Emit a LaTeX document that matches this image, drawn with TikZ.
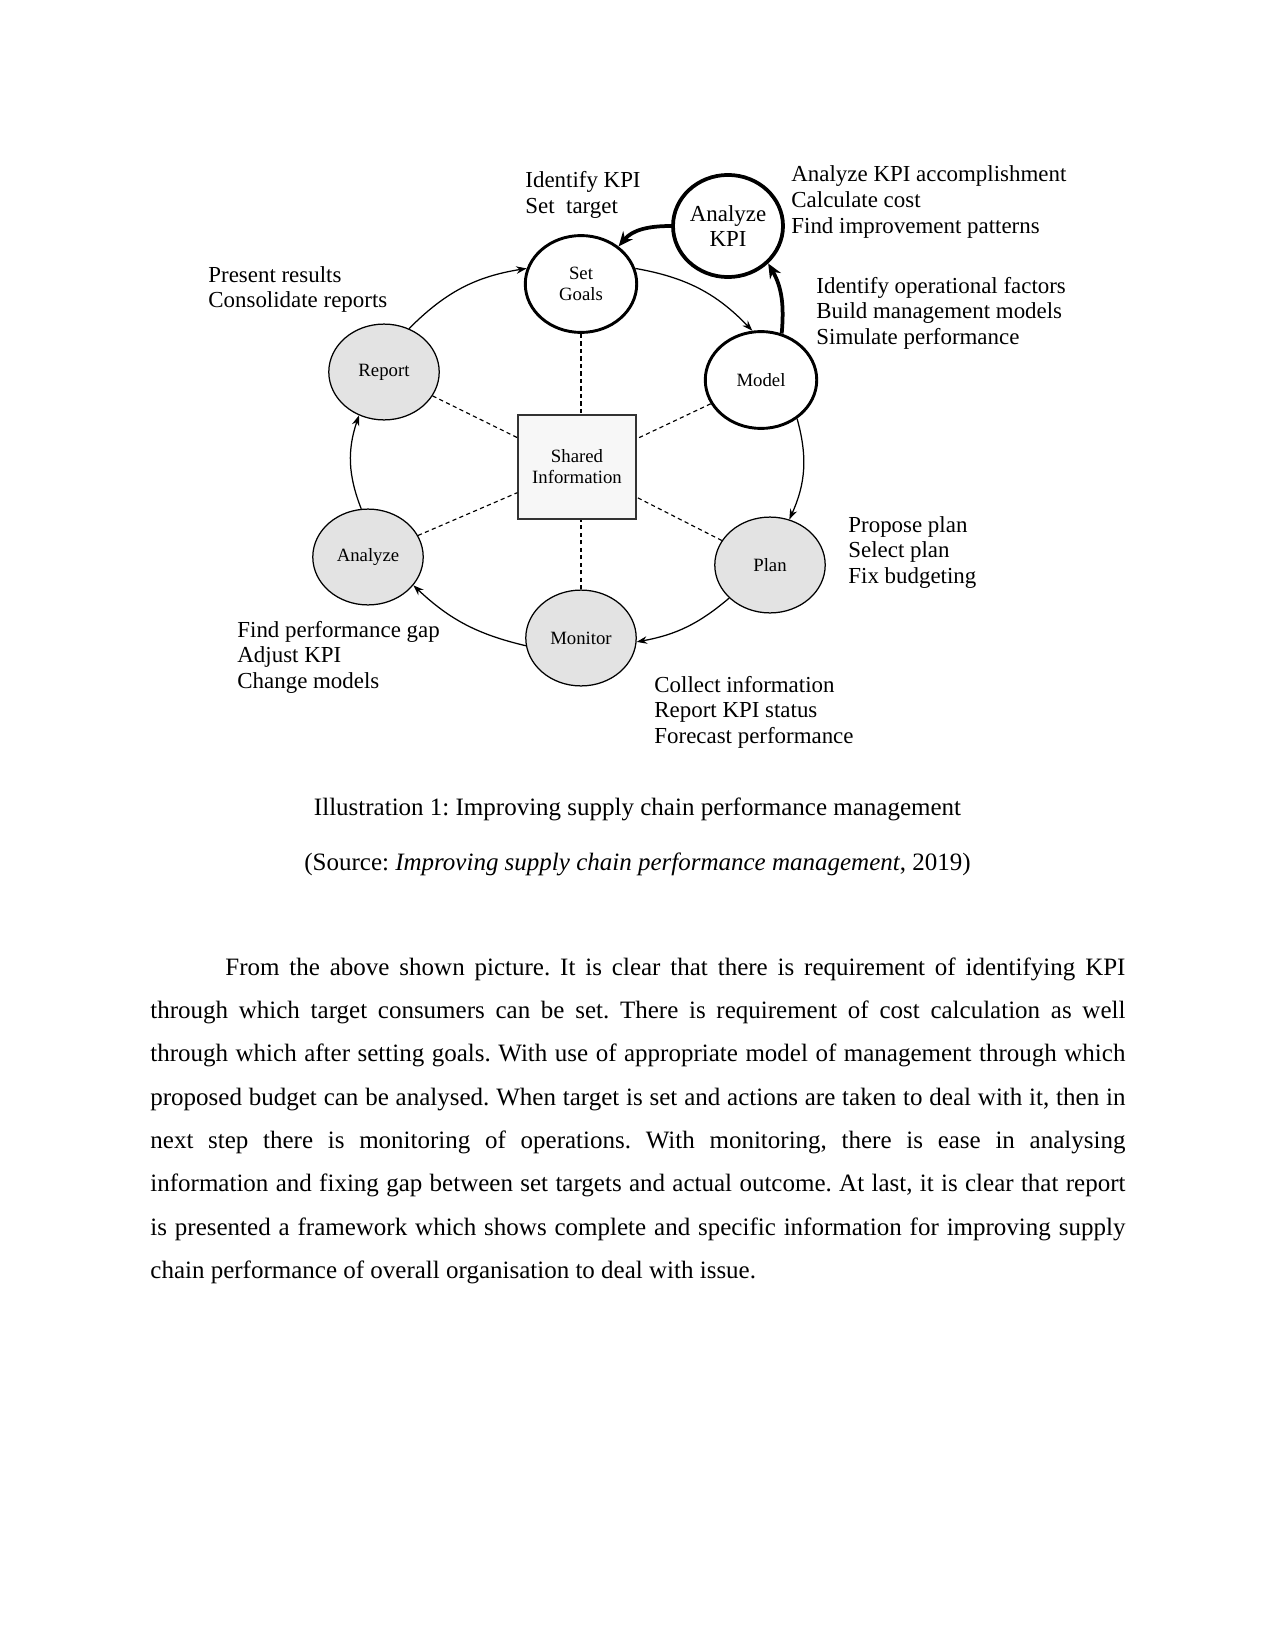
\documentclass[tikz,border=0pt]{standalone}
\usepackage{fontspec}
\setmainfont{Liberation Serif}
\usetikzlibrary{shapes.geometric,arrows.meta}
\newcommand\notetext[1]{\begin{tabular}[t]{@{}l@{}}#1\end{tabular}}
\begin{document}
\frenchspacing
\begin{tikzpicture}[x=0.48pt,y=-0.48pt,
  every node/.style={inner sep=0pt},
  note/.style={anchor=base west, font=\fontsize{11}{12.25}\selectfont},
  lbl/.style={font=\fontsize{9}{9.8}\selectfont, align=center},
  keynode/.style={ellipse, draw, line width=1.4pt, fill=white, minimum width=53.5pt, minimum height=46.5pt, lbl},
  graynode/.style={ellipse, draw, line width=0.6pt, fill=black!11, minimum width=53pt, minimum height=46pt, lbl},
  flow/.style={-{Stealth[length=5pt,width=3.6pt]}, line width=0.6pt},
  thickflow/.style={-{Stealth[length=7pt,width=6pt]}, line width=1.8pt},
  link/.style={dash pattern=on 2pt off 1.6pt, line width=0.55pt}
]
\fill[white] (0,0) rectangle (1275,1651);
\useasboundingbox (0,0) rectangle (1275,1651);

% nodes
\node[keynode] (setgoals) at (581,284) {Set\\Goals};
\node[keynode, line width=1.8pt, minimum width=52.8pt, minimum height=49pt,
      font=\fontsize{11}{12.4}\selectfont] (akpi) at (728,226) {Analyze\\KPI};
\node[keynode] (model) at (761,380) {Model};
\node[graynode] (plan) at (770,565) {Plan};
\node[graynode] (monitor) at (581,638) {Monitor};
\node[graynode] (analyze) at (368,557) {Analyze};
\node[graynode] (report) at (384,372) {Report};
\node[draw=black!80, line width=0.6pt, fill=black!3, minimum width=56.6pt, minimum height=50pt,
      font=\fontsize{9}{10}\selectfont, align=center] (info) at (577,467) {Shared\\Information};

% dashed links
\draw[link] (report) -- (info);
\draw[link] (model) -- (info);
\draw[link] (plan) -- (info);
\draw[link] (analyze) -- (info);
\draw[link] (setgoals) -- (setgoals |- info.north);
\draw[link] (monitor) -- (monitor |- info.south);

% cycle arrows
\draw[flow] (report.60) to[bend left=18] (setgoals.164);
\draw[flow] (setgoals.16) to[bend left=18] (model.100);
\draw[flow] (model.-47) to[bend left=20] (plan.67);
\draw[flow] (plan.-141) to[bend left=15] (monitor.-4);
\draw[flow] (monitor.188) to[bend left=15] (analyze.-32);
\draw[flow] (analyze.98) to[bend left=20] (report.240);

% thick arrows
\draw[thickflow] (akpi.180) to[out=180,in=50] (setgoals.45);
\draw[thickflow] (model.66) to[out=85,in=-60] (akpi.-43);

% annotations
\node[note] (n1) at (525,188) {\notetext{Identify KPI\\Set\ \ target}};
\node[note] (n2) at (791,182) {\notetext{Analyze KPI accomplishment\\Calculate cost\\Find improvement patterns}};
\node[note] (n3) at (816,293) {\notetext{Identify operational factors\\Build management models\\Simulate performance}};
\node[note] (n4) at (208,282) {\notetext{Present results\\Consolidate reports}};
\node[note] (n5) at (848,532) {\notetext{Propose plan\\Select plan\\Fix budgeting}};
\node[note] (n6) at (237,637) {\notetext{Find performance gap\\Adjust KPI\\Change models}};
\node[note] (n7) at (654,692) {\notetext{Collect information\\Report KPI status\\Forecast performance}};

% caption
\node[anchor=base, font=\fontsize{12}{14}\selectfont] (cap) at (637.5,815)
  {Illustration 1: Improving supply chain performance management};
\node[anchor=base, font=\fontsize{12}{14}\selectfont] (src) at (637.5,870)
  {(Source: \textit{Improving supply chain performance management}, 2019)};

% body text
\node[anchor=base west, font=\fontsize{12}{20.8}\selectfont] (body) at (150,975)
 {\vtop{\hsize=468pt \baselineskip=20.8pt
  \hbox to\hsize{\hskip36pt From the above shown picture. It is clear that there is requirement of identifying KPI}
  \hbox to\hsize{through which target consumers can be set. There is requirement of cost calculation as well}
  \hbox to\hsize{through which after setting goals. With use of appropriate model of management through which}
  \hbox to\hsize{proposed budget can be analysed. When target is set and actions are taken to deal with it, then in}
  \hbox to\hsize{next step there is monitoring of operations. With monitoring, there is ease in analysing}
  \hbox to\hsize{information and fixing gap between set targets and actual outcome. At last, it is clear that report}
  \hbox to\hsize{is presented a framework which shows complete and specific information for improving supply}
  \hbox{chain performance of overall organisation to deal with issue.}}};
\end{tikzpicture}
\end{document}
